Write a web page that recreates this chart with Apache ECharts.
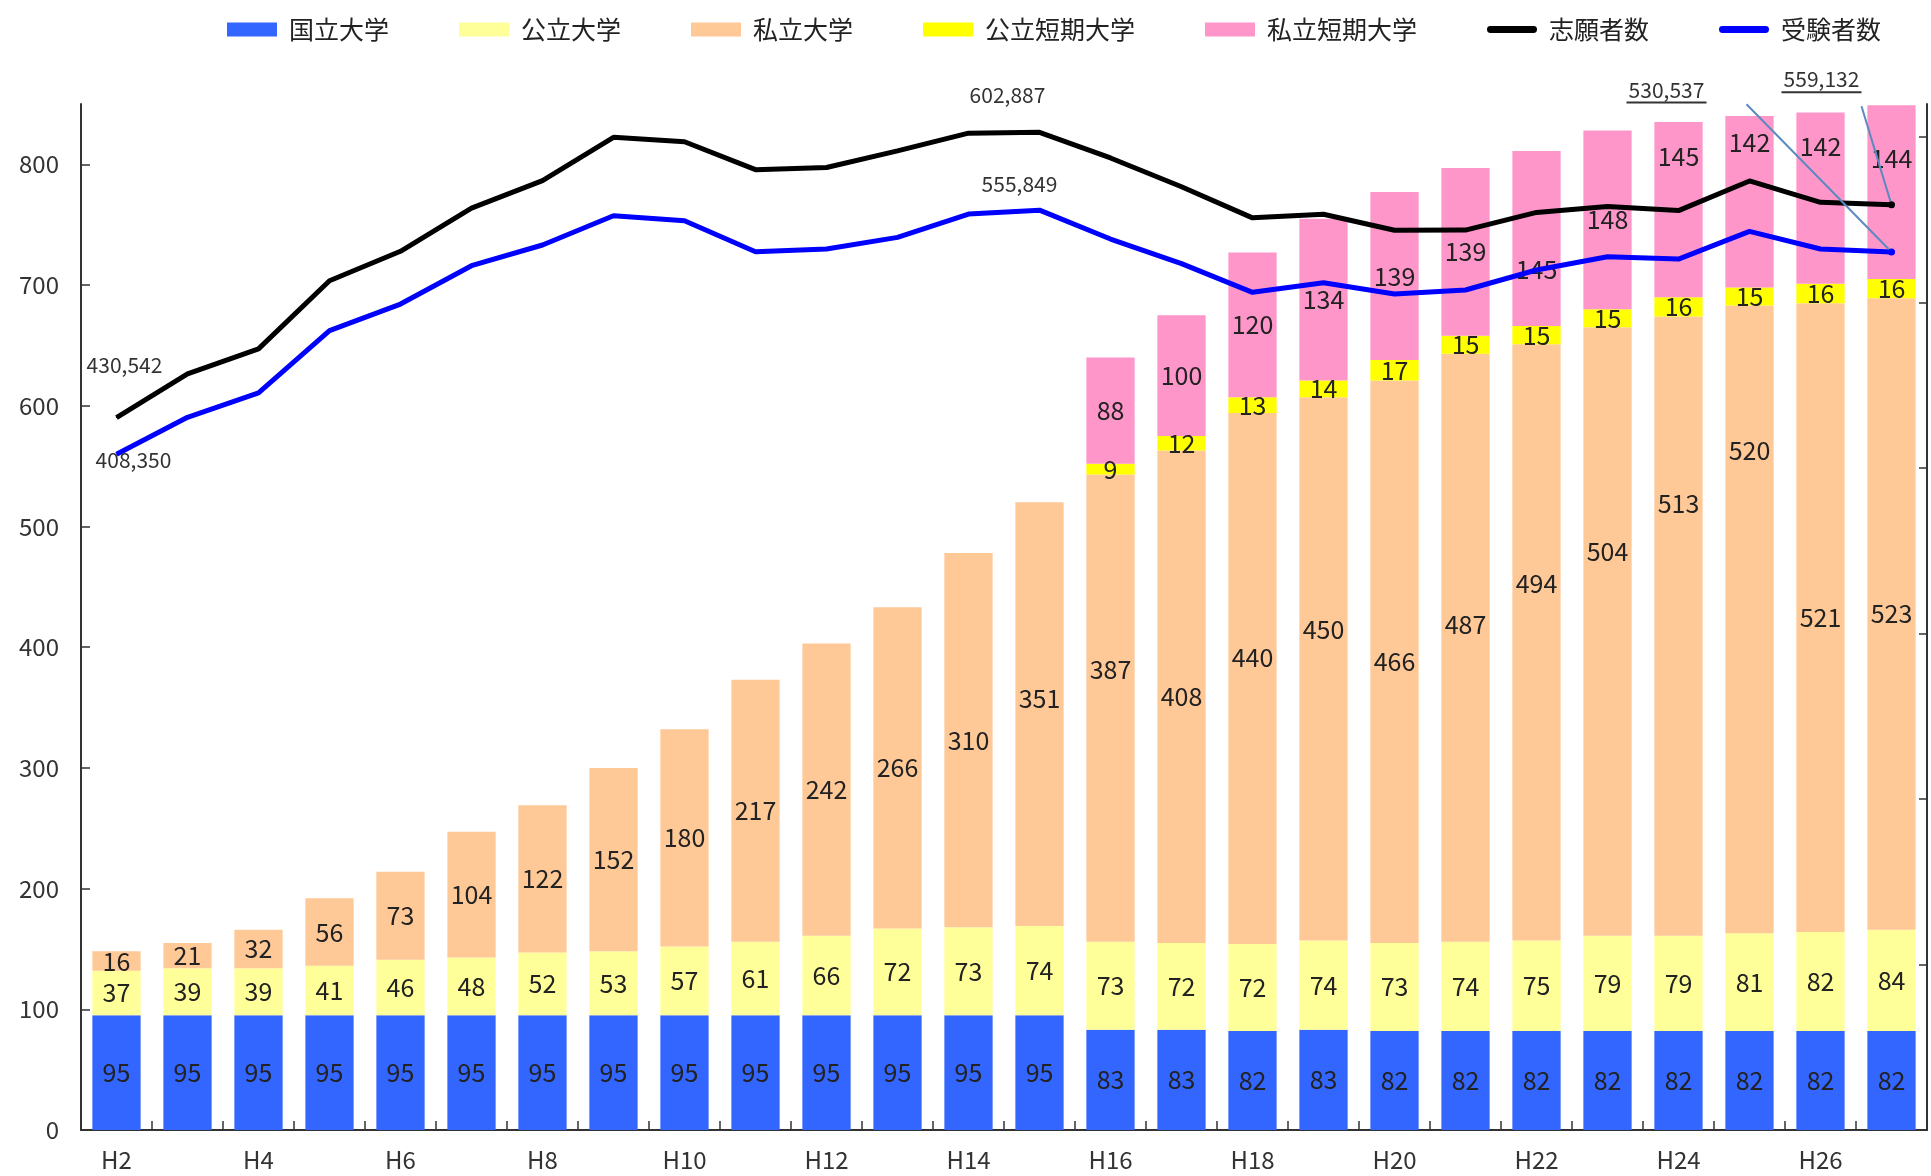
<!DOCTYPE html>
<html><head><meta charset="utf-8">
<script src="https://cdn.jsdelivr.net/npm/echarts@6/dist/echarts.min.js"></script>
<style>html,body{margin:0;padding:0;background:#fff}#c{width:1931px;height:1176px}</style>
</head><body><div id="c"></div>
<script>
// ---- data ----
const categories = ['H2','H3','H4','H5','H6','H7','H8','H9','H10','H11','H12','H13','H14','H15','H16','H17','H18','H19','H20','H21','H22','H23','H24','H25','H26','H27'];
const nationalUniv = [95,95,95,95,95,95,95,95,95,95,95,95,95,95,83,83,82,83,82,82,82,82,82,82,82,82];
const publicUniv = [37,39,39,41,46,48,52,53,57,61,66,72,73,74,73,72,72,74,73,74,75,79,79,81,82,84];
const privateUniv = [16,21,32,56,73,104,122,152,180,217,242,266,310,351,387,408,440,450,466,487,494,504,513,520,521,523];
const publicJunior = [null,null,null,null,null,null,null,null,null,null,null,null,null,null,9,12,13,14,17,15,15,15,16,15,16,16];
const privateJunior = [null,null,null,null,null,null,null,null,null,null,null,null,null,null,88,100,120,134,139,139,145,148,145,142,142,144];
const applicants = [430542,456900,472000,513200,531000,557100,573700,599900,597200,580300,581600,591700,602400,602887,587400,570000,551200,553400,543700,543800,554500,558100,555600,573500,560600,559132];
const examinees = [408350,430700,445400,483000,499100,522300,534800,552500,549500,530700,532400,539400,553500,555849,538400,523500,506200,512000,505200,507600,519700,527700,526300,543000,532400,530537];
const leftTicks = [0,100,200,300,400,500,600,700,800];
const rightTicks = [0,100000,200000,300000,400000,500000,600000];

const FONT = '"Noto Sans CJK JP", "Noto Sans", sans-serif';
const fmt = v => v.toLocaleString('en-US');

// label placement tweaks (styling only: vertical shift of a bar label, px)
const privateUnivLabelShift = {13:-16, 14:-39, 16:-21, 17:-39, 19:-23, 20:-59, 21:-80, 22:-123, 23:-169};
const privateJuniorLabelShift = {20:31, 22:-53, 23:-59, 24:-52, 25:-34};

// annotation styling (label offsets relative to the data point)
const annoApplicants = {0:{offset:[8,-53]}, 13:{offset:[-32,-37]}, 25:{offset:[-70,-124], leader:true}};
const annoExaminees = {0:{offset:[17,6]}, 13:{offset:[-20,-26]}, 25:{offset:[-225,-161], leader:true}};

function lineData(values, notes, color) {
  return values.map((v, i) => {
    const n = notes[i];
    if (!n) return v;
    const item = {
      value: v, symbol: 'circle', symbolSize: n.leader ? 7 : 1,
      itemStyle: {color: color},
      label: {
        show: true, position: 'inside', offset: n.offset,
        color: '#333', fontFamily: FONT, fontSize: 21,
        formatter: n.leader ? '{t|' + fmt(v) + '}\n{u| }' : fmt(v),
        rich: {t: {fontSize: 21, lineHeight: 23, color: '#333', fontFamily: FONT},
               u: {width: 80, height: 2, lineHeight: 3, backgroundColor: '#333', fontSize: 2}}
      }
    };
    if (n.leader) item.labelLine = {show: true, length2: 0, lineStyle: {color: '#5A8AC0', width: 2}};
    return item;
  });
}

function barSeries(name, values, color, shifts) {
  const data = values.map((v, i) => (shifts && shifts[i] && v != null)
    ? {value: v, label: {offset: [0, shifts[i]]}} : v);
  return {
    name: name, type: 'bar', stack: 'total', data: data, barCategoryGap: '32%',
    itemStyle: {color: color},
    label: {show: true, position: 'inside', color: '#222', fontFamily: FONT, fontSize: 25},
    z: 2
  };
}

const lineIcon = 'path://M3,0H47A3.5,3.5,0,0,1,47,7H3A3.5,3.5,0,0,1,3,0Z';

const chart = echarts.init(document.getElementById('c'), null, {renderer: 'canvas'});
chart.setOption({
  animation: false,
  textStyle: {fontFamily: FONT},
  legend: {
    left: 222, top: 12, itemWidth: 50, itemHeight: 14, itemGap: 70,
    textStyle: {fontSize: 25, color: '#222', fontFamily: FONT, padding: [0,0,0,7]},
    data: [
      {name: '国立大学', icon: 'rect'}, {name: '公立大学', icon: 'rect'}, {name: '私立大学', icon: 'rect'},
      {name: '公立短期大学', icon: 'rect'}, {name: '私立短期大学', icon: 'rect'},
      {name: '志願者数', icon: lineIcon}, {name: '受験者数', icon: lineIcon}
    ]
  },
  grid: {left: 81, right: 4, top: 104, bottom: 46, containLabel: false, outerBoundsMode: 'none'},
  xAxis: {
    type: 'category', data: categories, boundaryGap: true,
    axisLine: {lineStyle: {color: '#333', width: 2}},
    axisTick: {show: true, inside: true, interval: 0, length: 9, lineStyle: {color: '#333', width: 1.5}},
    axisLabel: {interval: 1, fontSize: 24, color: '#333', margin: 18, fontFamily: FONT}
  },
  yAxis: [
    {
      type: 'value', min: 0, max: 850, interval: 100, position: 'left',
      axisLine: {show: true, lineStyle: {color: '#333', width: 2}},
      axisTick: {show: true, inside: true, length: 9, customValues: leftTicks, lineStyle: {color: '#333', width: 1.5}},
      axisLabel: {fontSize: 24, color: '#333', margin: 22, customValues: leftTicks, fontFamily: FONT},
      splitLine: {show: false}
    },
    {
      type: 'value', min: 0, max: 620000, interval: 100000, position: 'right',
      axisLine: {show: true, lineStyle: {color: '#333', width: 2}},
      axisTick: {show: true, inside: true, length: 8, customValues: rightTicks, lineStyle: {color: '#333', width: 1.5}},
      axisLabel: {show: false},
      splitLine: {show: false}
    }
  ],
  series: [
    barSeries('国立大学', nationalUniv, '#3366FF'),
    barSeries('公立大学', publicUniv, '#FFFF99'),
    barSeries('私立大学', privateUniv, '#FFC897', privateUnivLabelShift),
    barSeries('公立短期大学', publicJunior, '#FFFF00'),
    barSeries('私立短期大学', privateJunior, '#FF96CA', privateJuniorLabelShift),
    {
      name: '志願者数', type: 'line', yAxisIndex: 1, data: lineData(applicants, annoApplicants, '#000'),
      symbol: 'none', showSymbol: true, lineStyle: {color: '#000', width: 5}, itemStyle: {color: '#000'}, z: 5
    },
    {
      name: '受験者数', type: 'line', yAxisIndex: 1, data: lineData(examinees, annoExaminees, '#0000FF'),
      symbol: 'none', showSymbol: true, lineStyle: {color: '#0000FF', width: 5}, itemStyle: {color: '#0000FF'}, z: 5
    }
  ]
});
</script>
</body></html>
